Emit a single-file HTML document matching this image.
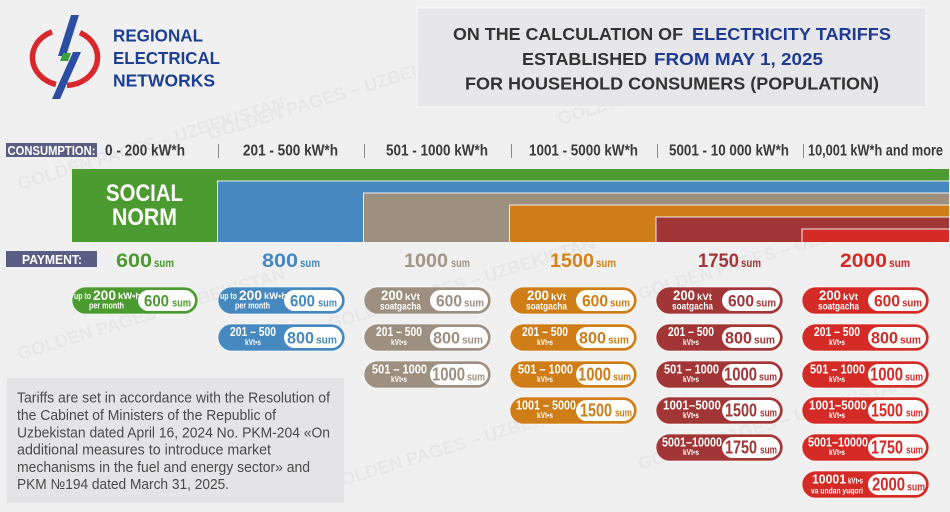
<!DOCTYPE html>
<html><head><meta charset="utf-8">
<style>
html,body{margin:0;padding:0;background:#f0f0f0;width:950px;height:512px;overflow:hidden;}
svg{display:block;}
.w{fill:#fff;}
text{font-family:"Liberation Sans",Arial,sans-serif;font-weight:bold;}
.n{font-weight:normal;}
.wm{fill:#e7e7e8;font-size:18px;}
</style></head>
<body>
<svg width="950" height="512" viewBox="0 0 950 512" xmlns="http://www.w3.org/2000/svg" style="overflow:hidden">
<defs><clipPath id="cp"><rect width="950" height="512"/></clipPath></defs>
<rect width="950" height="512" fill="#f0f0f0"/>
<!-- watermark -->
<g clip-path="url(#cp)">
<text class="wm" transform="translate(20,190) rotate(-17)">GOLDEN PAGES – UZBEKISTAN</text>
<text class="wm" transform="translate(210,140) rotate(-17)">GOLDEN PAGES – UZBEKISTAN</text>
<text class="wm" transform="translate(560,125) rotate(-17)">GOLDEN PAGES – UZBEKISTAN</text>
<text class="wm" transform="translate(20,360) rotate(-17)">GOLDEN PAGES – UZBEKISTAN</text>
<text class="wm" transform="translate(330,330) rotate(-17)">GOLDEN PAGES – UZBEKISTAN</text>
<text class="wm" transform="translate(640,300) rotate(-17)">GOLDEN PAGES – UZBEKISTAN</text>
<text class="wm" transform="translate(330,490) rotate(-17)">GOLDEN PAGES – UZBEKISTAN</text>
<text class="wm" transform="translate(640,470) rotate(-17)">GOLDEN PAGES – UZBEKISTAN</text>
</g>

<!-- logo -->
<path d="M52 31.8 A32.5 28 0 0 0 56 84.4" fill="none" stroke="#d8282c" stroke-width="5.5"/>
<path d="M80 32.6 A32.5 28 0 0 1 67 85.4" fill="none" stroke="#d8282c" stroke-width="5.5"/>
<polygon points="71,15 79,15 66,56 58,56" fill="#2b4ea2"/>
<polygon points="73,52 81,52 60,99 52,99" fill="#2b4ea2"/>
<polygon points="63,53 71,53 68,61 60,61" fill="#3aa040"/>
<text x="113" y="41.7" font-size="17.5" fill="#1c3f94" textLength="90" lengthAdjust="spacingAndGlyphs">REGIONAL</text>
<text x="113" y="64" font-size="17.5" fill="#1c3f94" textLength="107" lengthAdjust="spacingAndGlyphs">ELECTRICAL</text>
<text x="113" y="86.5" font-size="17.5" fill="#1c3f94" textLength="102" lengthAdjust="spacingAndGlyphs">NETWORKS</text>

<!-- title -->
<rect x="417" y="8" width="509" height="99" fill="#e7e7e9" stroke="#f8f8f8" stroke-width="1"/>
<text x="453" y="40" font-size="17.5" fill="#333" textLength="230" lengthAdjust="spacingAndGlyphs">ON THE CALCULATION OF</text>
<text x="692" y="40" font-size="17.5" fill="#1f3a93" textLength="199" lengthAdjust="spacingAndGlyphs">ELECTRICITY TARIFFS</text>
<text x="522" y="65" font-size="17.5" fill="#333" textLength="125" lengthAdjust="spacingAndGlyphs">ESTABLISHED</text>
<text x="654" y="65" font-size="17.5" fill="#1f3a93" textLength="169" lengthAdjust="spacingAndGlyphs">FROM MAY 1, 2025</text>
<text x="465" y="89.5" font-size="17.5" fill="#333" textLength="414" lengthAdjust="spacingAndGlyphs">FOR HOUSEHOLD CONSUMERS (POPULATION)</text>

<!-- consumption row -->
<rect x="6" y="143" width="91" height="14" fill="#5a5e84"/>
<text x="7.5" y="155" font-size="12.5" class="w" textLength="88" lengthAdjust="spacingAndGlyphs">CONSUMPTION:</text>
<g font-size="16" fill="#3a3a3a">
<text x="105" y="155.5" textLength="80" lengthAdjust="spacingAndGlyphs" fill="#3a3a3a">0 - 200 kW*h</text>
<text x="243" y="155.5" textLength="95" lengthAdjust="spacingAndGlyphs" fill="#3a3a3a">201 - 500 kW*h</text>
<text x="386" y="155.5" textLength="102" lengthAdjust="spacingAndGlyphs" fill="#3a3a3a">501 - 1000 kW*h</text>
<text x="529" y="155.5" textLength="109" lengthAdjust="spacingAndGlyphs" fill="#3a3a3a">1001 - 5000 kW*h</text>
<text x="669" y="155.5" textLength="120" lengthAdjust="spacingAndGlyphs" fill="#3a3a3a">5001 - 10 000 kW*h</text>
<text x="808" y="155.5" textLength="135" lengthAdjust="spacingAndGlyphs" fill="#3a3a3a">10,001 kW*h and more</text>
</g>
<g stroke="#8a8a8a" stroke-width="1">
<line x1="218.5" y1="144" x2="218.5" y2="158"/>
<line x1="364.5" y1="144" x2="364.5" y2="158"/>
<line x1="511.5" y1="144" x2="511.5" y2="158"/>
<line x1="657.5" y1="144" x2="657.5" y2="158"/>
<line x1="803.5" y1="144" x2="803.5" y2="158"/>
</g>

<!-- bars -->
<rect x="72" y="169" width="877" height="73" fill="#4b9b30"/>
<rect x="217.5" y="181" width="731.5" height="61" fill="#4688c0"/>
<rect x="363.5" y="193" width="585.5" height="49" fill="#9d9080"/>
<rect x="509.5" y="205" width="439.5" height="37" fill="#cf7d17"/>
<rect x="656" y="217" width="293" height="25" fill="#a23535"/>
<rect x="802" y="229" width="147" height="13" fill="#d42b26"/>
<g fill="none" stroke="#eeeeee" stroke-width="1">
<polyline points="217.5,242 217.5,181 949,181"/>
<polyline points="363.5,242 363.5,193 949,193"/>
<polyline points="509.5,242 509.5,205 949,205"/>
<polyline points="656,242 656,217 949,217"/>
<polyline points="802,242 802,229 949,229"/>
</g>
<text x="106" y="201" font-size="24" class="w" textLength="77" lengthAdjust="spacingAndGlyphs">SOCIAL</text>
<text x="112" y="225" font-size="24" class="w" textLength="65" lengthAdjust="spacingAndGlyphs">NORM</text>

<!-- payment row -->
<rect x="6" y="251" width="91" height="16" fill="#5a5e84"/>
<text x="22" y="264" font-size="13" class="w" textLength="60" lengthAdjust="spacingAndGlyphs">PAYMENT:</text>
<text x="116" y="267" font-size="19.5" fill="#4a9a2f" textLength="36" lengthAdjust="spacingAndGlyphs">600</text>
<text x="154" y="267" font-size="12" fill="#4a9a2f" textLength="20" lengthAdjust="spacingAndGlyphs">sum</text>
<text x="262" y="267" font-size="19.5" fill="#4587c3" textLength="36" lengthAdjust="spacingAndGlyphs">800</text>
<text x="300" y="267" font-size="12" fill="#4587c3" textLength="20" lengthAdjust="spacingAndGlyphs">sum</text>
<text x="404" y="267" font-size="19.5" fill="#a19585" textLength="44" lengthAdjust="spacingAndGlyphs">1000</text>
<text x="451" y="267" font-size="12" fill="#a19585" textLength="19" lengthAdjust="spacingAndGlyphs">sum</text>
<text x="550" y="267" font-size="19.5" fill="#d4821c" textLength="44" lengthAdjust="spacingAndGlyphs">1500</text>
<text x="596" y="267" font-size="12" fill="#d4821c" textLength="20" lengthAdjust="spacingAndGlyphs">sum</text>
<text x="698" y="267" font-size="19.5" fill="#a23637" textLength="41" lengthAdjust="spacingAndGlyphs">1750</text>
<text x="741" y="267" font-size="12" fill="#a23637" textLength="20" lengthAdjust="spacingAndGlyphs">sum</text>
<text x="840" y="267" font-size="19.5" fill="#d22b27" textLength="47" lengthAdjust="spacingAndGlyphs">2000</text>
<text x="889" y="267" font-size="12" fill="#d22b27" textLength="21" lengthAdjust="spacingAndGlyphs">sum</text>

<!-- PILLS -->
<g transform="translate(72,287)" fill="#4b9b30">
<rect width="126" height="27" rx="13.5" stroke="#ffffff" stroke-opacity=".6"/>
<text x="2" y="12" font-size="9" class="w" textLength="17" lengthAdjust="spacingAndGlyphs">up to</text>
<text x="21" y="13" font-size="13.5" class="w" textLength="23" lengthAdjust="spacingAndGlyphs">200</text>
<text x="46" y="12" font-size="9" class="w" textLength="23" lengthAdjust="spacingAndGlyphs">kW•h</text>
<text x="17" y="21.5" font-size="9" class="w" textLength="35" lengthAdjust="spacingAndGlyphs">per month</text>
<rect x="66" y="3" width="57" height="21" rx="10.5" fill="#fff"/>
<text x="72" y="19.5" font-size="16.5" textLength="25" lengthAdjust="spacingAndGlyphs">600</text>
<text x="100" y="19.5" font-size="11" textLength="19" lengthAdjust="spacingAndGlyphs">sum</text>
</g>

<g transform="translate(218,287)" fill="#4688c0">
<rect width="127" height="27" rx="13.5" stroke="#ffffff" stroke-opacity=".6"/>
<text x="2" y="12" font-size="9" class="w" textLength="17" lengthAdjust="spacingAndGlyphs">up to</text>
<text x="21" y="13" font-size="13.5" class="w" textLength="23" lengthAdjust="spacingAndGlyphs">200</text>
<text x="46" y="12" font-size="9" class="w" textLength="23" lengthAdjust="spacingAndGlyphs">kW•h</text>
<text x="17" y="21.5" font-size="9" class="w" textLength="35" lengthAdjust="spacingAndGlyphs">per month</text>
<rect x="66" y="3" width="58" height="21" rx="10.5" fill="#fff"/>
<text x="72" y="19.5" font-size="16.5" textLength="25" lengthAdjust="spacingAndGlyphs">600</text>
<text x="100" y="19.5" font-size="11" textLength="19" lengthAdjust="spacingAndGlyphs">sum</text>
</g>
<g transform="translate(218,324)" fill="#4688c0">
<rect width="127" height="27" rx="13.5" stroke="#ffffff" stroke-opacity=".6"/>
<text x="12" y="12" font-size="12.5" class="w" textLength="46" lengthAdjust="spacingAndGlyphs">201 – 500</text>
<text x="27" y="21" font-size="8" class="w" textLength="16" lengthAdjust="spacingAndGlyphs">kVt•s</text>
<rect x="66" y="3" width="58" height="21" rx="10.5" fill="#fff"/>
<text x="69" y="19.5" font-size="17" textLength="27" lengthAdjust="spacingAndGlyphs">800</text>
<text x="98" y="19.5" font-size="11" textLength="21" lengthAdjust="spacingAndGlyphs">sum</text>
</g>

<g transform="translate(364,287)" fill="#9d9080">
<rect width="127" height="27" rx="13.5" stroke="#ffffff" stroke-opacity=".6"/>
<text x="17" y="13" font-size="13.5" class="w" textLength="22" lengthAdjust="spacingAndGlyphs">200</text>
<text x="41" y="13" font-size="9.5" class="w" textLength="15" lengthAdjust="spacingAndGlyphs">kVt</text>
<text x="16" y="22.5" font-size="10" class="w" textLength="41" lengthAdjust="spacingAndGlyphs">soatgacha</text>
<rect x="66" y="3" width="58" height="21" rx="10.5" fill="#fff"/>
<text x="72" y="19.5" font-size="16.5" textLength="26" lengthAdjust="spacingAndGlyphs">600</text>
<text x="100" y="19.5" font-size="11" textLength="20" lengthAdjust="spacingAndGlyphs">sum</text>
</g>
<g transform="translate(364,324)" fill="#9d9080">
<rect width="127" height="27" rx="13.5" stroke="#ffffff" stroke-opacity=".6"/>
<text x="12" y="12" font-size="12.5" class="w" textLength="46" lengthAdjust="spacingAndGlyphs">201 – 500</text>
<text x="27" y="21" font-size="8" class="w" textLength="16" lengthAdjust="spacingAndGlyphs">kVt•s</text>
<rect x="66" y="3" width="58" height="21" rx="10.5" fill="#fff"/>
<text x="69" y="19.5" font-size="17" textLength="27" lengthAdjust="spacingAndGlyphs">800</text>
<text x="98" y="19.5" font-size="11" textLength="21" lengthAdjust="spacingAndGlyphs">sum</text>
</g>
<g transform="translate(364,361)" fill="#9d9080">
<rect width="127" height="27" rx="13.5" stroke="#ffffff" stroke-opacity=".6"/>
<text x="8" y="12.5" font-size="12.5" class="w" textLength="55" lengthAdjust="spacingAndGlyphs">501 – 1000</text>
<text x="27" y="21" font-size="8" class="w" textLength="16" lengthAdjust="spacingAndGlyphs">kVt•s</text>
<rect x="66" y="3" width="58" height="21" rx="10.5" fill="#fff"/>
<text x="68" y="19.5" font-size="18" textLength="33" lengthAdjust="spacingAndGlyphs">1000</text>
<text x="103" y="19.5" font-size="11" textLength="18" lengthAdjust="spacingAndGlyphs">sum</text>
</g>

<g transform="translate(510,287)" fill="#cf7d17">
<rect width="127" height="27" rx="13.5" stroke="#ffffff" stroke-opacity=".6"/>
<text x="17" y="13" font-size="13.5" class="w" textLength="22" lengthAdjust="spacingAndGlyphs">200</text>
<text x="41" y="13" font-size="9.5" class="w" textLength="15" lengthAdjust="spacingAndGlyphs">kVt</text>
<text x="16" y="22.5" font-size="10" class="w" textLength="41" lengthAdjust="spacingAndGlyphs">soatgacha</text>
<rect x="66" y="3" width="58" height="21" rx="10.5" fill="#fff"/>
<text x="72" y="19.5" font-size="16.5" textLength="26" lengthAdjust="spacingAndGlyphs">600</text>
<text x="100" y="19.5" font-size="11" textLength="20" lengthAdjust="spacingAndGlyphs">sum</text>
</g>
<g transform="translate(510,324)" fill="#cf7d17">
<rect width="127" height="27" rx="13.5" stroke="#ffffff" stroke-opacity=".6"/>
<text x="12" y="12" font-size="12.5" class="w" textLength="46" lengthAdjust="spacingAndGlyphs">201 – 500</text>
<text x="27" y="21" font-size="8" class="w" textLength="16" lengthAdjust="spacingAndGlyphs">kVt•s</text>
<rect x="66" y="3" width="58" height="21" rx="10.5" fill="#fff"/>
<text x="69" y="19.5" font-size="17" textLength="27" lengthAdjust="spacingAndGlyphs">800</text>
<text x="98" y="19.5" font-size="11" textLength="21" lengthAdjust="spacingAndGlyphs">sum</text>
</g>
<g transform="translate(510,361)" fill="#cf7d17">
<rect width="127" height="27" rx="13.5" stroke="#ffffff" stroke-opacity=".6"/>
<text x="8" y="12.5" font-size="12.5" class="w" textLength="55" lengthAdjust="spacingAndGlyphs">501 – 1000</text>
<text x="27" y="21" font-size="8" class="w" textLength="16" lengthAdjust="spacingAndGlyphs">kVt•s</text>
<rect x="66" y="3" width="58" height="21" rx="10.5" fill="#fff"/>
<text x="68" y="19.5" font-size="18" textLength="33" lengthAdjust="spacingAndGlyphs">1000</text>
<text x="103" y="19.5" font-size="11" textLength="18" lengthAdjust="spacingAndGlyphs">sum</text>
</g>
<g transform="translate(510,397)" fill="#cf7d17">
<rect width="127" height="27" rx="13.5" stroke="#ffffff" stroke-opacity=".6"/>
<text x="6" y="12.5" font-size="12.5" class="w" textLength="60" lengthAdjust="spacingAndGlyphs">1001 – 5000</text>
<text x="27" y="21" font-size="8" class="w" textLength="16" lengthAdjust="spacingAndGlyphs">kVt•s</text>
<rect x="66" y="3" width="58" height="21" rx="10.5" fill="#fff"/>
<text x="70" y="19.5" font-size="18" textLength="32" lengthAdjust="spacingAndGlyphs">1500</text>
<text x="105" y="19.5" font-size="11" textLength="17" lengthAdjust="spacingAndGlyphs">sum</text>
</g>

<g transform="translate(656,287)" fill="#a23535">
<rect width="127" height="27" rx="13.5" stroke="#ffffff" stroke-opacity=".6"/>
<text x="17" y="13" font-size="13.5" class="w" textLength="22" lengthAdjust="spacingAndGlyphs">200</text>
<text x="41" y="13" font-size="9.5" class="w" textLength="15" lengthAdjust="spacingAndGlyphs">kVt</text>
<text x="16" y="22.5" font-size="10" class="w" textLength="41" lengthAdjust="spacingAndGlyphs">soatgacha</text>
<rect x="66" y="3" width="58" height="21" rx="10.5" fill="#fff"/>
<text x="72" y="19.5" font-size="16.5" textLength="26" lengthAdjust="spacingAndGlyphs">600</text>
<text x="100" y="19.5" font-size="11" textLength="20" lengthAdjust="spacingAndGlyphs">sum</text>
</g>
<g transform="translate(656,324)" fill="#a23535">
<rect width="127" height="27" rx="13.5" stroke="#ffffff" stroke-opacity=".6"/>
<text x="12" y="12" font-size="12.5" class="w" textLength="46" lengthAdjust="spacingAndGlyphs">201 – 500</text>
<text x="27" y="21" font-size="8" class="w" textLength="16" lengthAdjust="spacingAndGlyphs">kVt•s</text>
<rect x="66" y="3" width="58" height="21" rx="10.5" fill="#fff"/>
<text x="69" y="19.5" font-size="17" textLength="27" lengthAdjust="spacingAndGlyphs">800</text>
<text x="98" y="19.5" font-size="11" textLength="21" lengthAdjust="spacingAndGlyphs">sum</text>
</g>
<g transform="translate(656,361)" fill="#a23535">
<rect width="127" height="27" rx="13.5" stroke="#ffffff" stroke-opacity=".6"/>
<text x="8" y="12.5" font-size="12.5" class="w" textLength="55" lengthAdjust="spacingAndGlyphs">501 – 1000</text>
<text x="27" y="21" font-size="8" class="w" textLength="16" lengthAdjust="spacingAndGlyphs">kVt•s</text>
<rect x="66" y="3" width="58" height="21" rx="10.5" fill="#fff"/>
<text x="68" y="19.5" font-size="18" textLength="33" lengthAdjust="spacingAndGlyphs">1000</text>
<text x="103" y="19.5" font-size="11" textLength="18" lengthAdjust="spacingAndGlyphs">sum</text>
</g>
<g transform="translate(656,397)" fill="#a23535">
<rect width="127" height="27" rx="13.5" stroke="#ffffff" stroke-opacity=".6"/>
<text x="7" y="12.5" font-size="12.5" class="w" textLength="58" lengthAdjust="spacingAndGlyphs">1001–5000</text>
<text x="27" y="21" font-size="8" class="w" textLength="16" lengthAdjust="spacingAndGlyphs">kVt•s</text>
<rect x="66" y="3" width="58" height="21" rx="10.5" fill="#fff"/>
<text x="69" y="19.5" font-size="18" textLength="32" lengthAdjust="spacingAndGlyphs">1500</text>
<text x="104" y="19.5" font-size="11" textLength="17" lengthAdjust="spacingAndGlyphs">sum</text>
</g>
<g transform="translate(656,434)" fill="#a23535">
<rect width="127" height="27" rx="13.5" stroke="#ffffff" stroke-opacity=".6"/>
<text x="6" y="12.5" font-size="12.5" class="w" textLength="60" lengthAdjust="spacingAndGlyphs">5001–10000</text>
<text x="27" y="21" font-size="8" class="w" textLength="16" lengthAdjust="spacingAndGlyphs">kVt•s</text>
<rect x="66" y="3" width="58" height="21" rx="10.5" fill="#fff"/>
<text x="69" y="19.5" font-size="18" textLength="32" lengthAdjust="spacingAndGlyphs">1750</text>
<text x="104" y="19.5" font-size="11" textLength="17" lengthAdjust="spacingAndGlyphs">sum</text>
</g>

<g transform="translate(802,287)" fill="#d42b26">
<rect width="127" height="27" rx="13.5" stroke="#ffffff" stroke-opacity=".6"/>
<text x="17" y="13" font-size="13.5" class="w" textLength="22" lengthAdjust="spacingAndGlyphs">200</text>
<text x="41" y="13" font-size="9.5" class="w" textLength="15" lengthAdjust="spacingAndGlyphs">kVt</text>
<text x="16" y="22.5" font-size="10" class="w" textLength="41" lengthAdjust="spacingAndGlyphs">soatgacha</text>
<rect x="66" y="3" width="58" height="21" rx="10.5" fill="#fff"/>
<text x="72" y="19.5" font-size="16.5" textLength="26" lengthAdjust="spacingAndGlyphs">600</text>
<text x="100" y="19.5" font-size="11" textLength="20" lengthAdjust="spacingAndGlyphs">sum</text>
</g>
<g transform="translate(802,324)" fill="#d42b26">
<rect width="127" height="27" rx="13.5" stroke="#ffffff" stroke-opacity=".6"/>
<text x="12" y="12" font-size="12.5" class="w" textLength="46" lengthAdjust="spacingAndGlyphs">201 – 500</text>
<text x="27" y="21" font-size="8" class="w" textLength="16" lengthAdjust="spacingAndGlyphs">kVt•s</text>
<rect x="66" y="3" width="58" height="21" rx="10.5" fill="#fff"/>
<text x="69" y="19.5" font-size="17" textLength="27" lengthAdjust="spacingAndGlyphs">800</text>
<text x="98" y="19.5" font-size="11" textLength="21" lengthAdjust="spacingAndGlyphs">sum</text>
</g>
<g transform="translate(802,361)" fill="#d42b26">
<rect width="127" height="27" rx="13.5" stroke="#ffffff" stroke-opacity=".6"/>
<text x="8" y="12.5" font-size="12.5" class="w" textLength="55" lengthAdjust="spacingAndGlyphs">501 – 1000</text>
<text x="27" y="21" font-size="8" class="w" textLength="16" lengthAdjust="spacingAndGlyphs">kVt•s</text>
<rect x="66" y="3" width="58" height="21" rx="10.5" fill="#fff"/>
<text x="68" y="19.5" font-size="18" textLength="33" lengthAdjust="spacingAndGlyphs">1000</text>
<text x="103" y="19.5" font-size="11" textLength="18" lengthAdjust="spacingAndGlyphs">sum</text>
</g>
<g transform="translate(802,397)" fill="#d42b26">
<rect width="127" height="27" rx="13.5" stroke="#ffffff" stroke-opacity=".6"/>
<text x="7" y="12.5" font-size="12.5" class="w" textLength="58" lengthAdjust="spacingAndGlyphs">1001–5000</text>
<text x="27" y="21" font-size="8" class="w" textLength="16" lengthAdjust="spacingAndGlyphs">kVt•s</text>
<rect x="66" y="3" width="58" height="21" rx="10.5" fill="#fff"/>
<text x="69" y="19.5" font-size="18" textLength="32" lengthAdjust="spacingAndGlyphs">1500</text>
<text x="104" y="19.5" font-size="11" textLength="17" lengthAdjust="spacingAndGlyphs">sum</text>
</g>
<g transform="translate(802,434)" fill="#d42b26">
<rect width="127" height="27" rx="13.5" stroke="#ffffff" stroke-opacity=".6"/>
<text x="6" y="12.5" font-size="12.5" class="w" textLength="60" lengthAdjust="spacingAndGlyphs">5001–10000</text>
<text x="27" y="21" font-size="8" class="w" textLength="16" lengthAdjust="spacingAndGlyphs">kVt•s</text>
<rect x="66" y="3" width="58" height="21" rx="10.5" fill="#fff"/>
<text x="69" y="19.5" font-size="18" textLength="32" lengthAdjust="spacingAndGlyphs">1750</text>
<text x="104" y="19.5" font-size="11" textLength="17" lengthAdjust="spacingAndGlyphs">sum</text>
</g>
<g transform="translate(802,471)" fill="#d42b26">
<rect width="127" height="27" rx="13.5" stroke="#ffffff" stroke-opacity=".6"/>
<text x="10" y="12.5" font-size="12.5" class="w" textLength="34" lengthAdjust="spacingAndGlyphs">10001</text>
<text x="46" y="12.5" font-size="8.5" class="w" textLength="15" lengthAdjust="spacingAndGlyphs">kVt•s</text>
<text x="9" y="22.5" font-size="8.5" class="w" textLength="52" lengthAdjust="spacingAndGlyphs">va undan yuqori</text>
<rect x="66" y="3" width="58" height="21" rx="10.5" fill="#fff"/>
<text x="70" y="19.5" font-size="18" textLength="33" lengthAdjust="spacingAndGlyphs">2000</text>
<text x="105" y="19.5" font-size="11" textLength="18" lengthAdjust="spacingAndGlyphs">sum</text>
</g>

<!-- info box -->
<rect x="7" y="378" width="337" height="125" fill="#e4e4e6"/>
<g font-size="14.4" fill="#4a4a4a">
<text class="n" x="17" y="402.7" fill="#4a4a4a" textLength="313" lengthAdjust="spacingAndGlyphs">Tariffs are set in accordance with the Resolution of</text>
<text class="n" x="17" y="420" fill="#4a4a4a" textLength="259" lengthAdjust="spacingAndGlyphs">the Cabinet of Ministers of the Republic of</text>
<text class="n" x="17" y="437.3" fill="#4a4a4a" textLength="313" lengthAdjust="spacingAndGlyphs">Uzbekistan dated April 16, 2024 No. PKM-204 «On</text>
<text class="n" x="17" y="454.6" fill="#4a4a4a" textLength="254" lengthAdjust="spacingAndGlyphs">additional measures to introduce market</text>
<text class="n" x="17" y="471.9" fill="#4a4a4a" textLength="293" lengthAdjust="spacingAndGlyphs">mechanisms in the fuel and energy sector» and</text>
<text class="n" x="17" y="489.2" fill="#4a4a4a" textLength="212" lengthAdjust="spacingAndGlyphs">PKM №194 dated March 31, 2025.</text>
</g>
</svg>
</body></html>
